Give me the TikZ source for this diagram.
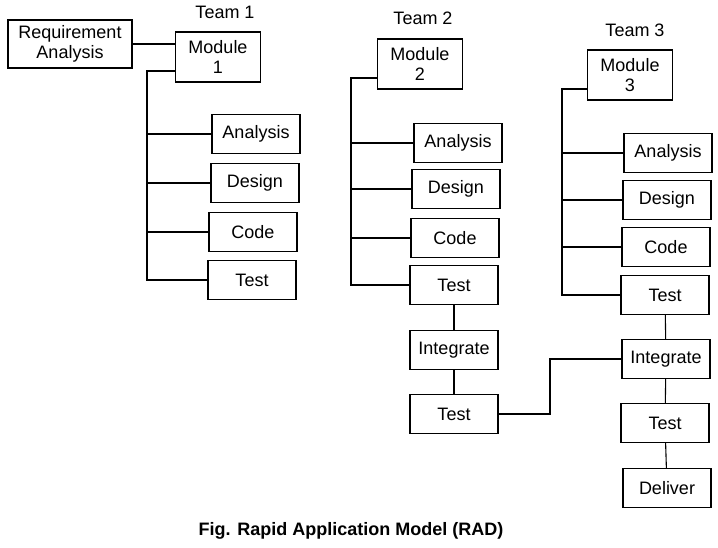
\documentclass[tikz,border=0pt]{standalone}
\usepackage{fontspec}
\setmainfont{Liberation Sans}
\begin{document}
\begin{tikzpicture}[x=1pt,y=-1pt,
  box/.style={draw, line width=1.1pt, minimum width=88pt, minimum height=39pt, inner sep=2pt, align=center, font=\fontsize{18}{20}\selectfont},
  modbox/.style={box, minimum width=85pt, minimum height=50pt},
  lbl/.style={font=\fontsize{18}{20}\selectfont},
  link/.style={line width=1.1pt}]
\useasboundingbox (0,0) rectangle (718,547);
% Team 1
\node[box, minimum width=124pt, minimum height=48pt] (ra) at (70,44) {Requirement\\Analysis};
\node[lbl] (team1) at (225,12) {Team 1};
\node[modbox] (m1) at (218,57) {Module\\1};
\node[box] (a1) at (256,134) {Analysis};
\node[box] (d1) at (255,183) {Design};
\node[box] (c1) at (253,232) {Code};
\node[box] (t1) at (252,280) {Test};
% Team 2
\node[lbl] (team2) at (423,18) {Team 2};
\node[modbox] (m2) at (420,64) {Module\\2};
\node[box] (a2) at (458,143) {Analysis};
\node[box] (d2) at (456,189) {Design};
\node[box] (c2) at (455,238) {Code};
\node[box] (t2) at (454,285) {Test};
\node[box] (i2) at (454,350) {Integrate};
\node[box] (tb2) at (454,414) {Test};
% Team 3
\node[lbl] (team3) at (635,30) {Team 3};
\node[modbox] (m3) at (630,75) {Module\\3};
\node[box] (a3) at (668,153) {Analysis};
\node[box] (d3) at (667,200) {Design};
\node[box] (c3) at (666,247) {Code};
\node[box] (t3) at (665,295) {Test};
\node[box] (i3) at (666,359) {Integrate};
\node[box] (tb3) at (665,423) {Test};
\node[box] (dl3) at (667,488) {Deliver};
% caption
\node[font=\bfseries\fontsize{18}{20}\selectfont] (cap) at (351,531) {Fig. Rapid Application Model (RAD)};
% spines
\coordinate (s1) at (147,71);
\coordinate (s2) at (351,78);
\coordinate (s3) at (562,89);
\coordinate (j) at (550,390);
\draw[link] (ra.east) -- (m1.west|-ra.east);
\draw[link] (m1.west|-s1) -- (s1) |- (t1.west);
\draw[link] (s1|-a1.west) -- (a1.west);
\draw[link] (s1|-d1.west) -- (d1.west);
\draw[link] (s1|-c1.west) -- (c1.west);
\draw[link] (m2.west|-s2) -- (s2) |- (t2.west);
\draw[link] (s2|-a2.west) -- (a2.west);
\draw[link] (s2|-d2.west) -- (d2.west);
\draw[link] (s2|-c2.west) -- (c2.west);
\draw[link] (m3.west|-s3) -- (s3) |- (t3.west);
\draw[link] (s3|-a3.west) -- (a3.west);
\draw[link] (s3|-d3.west) -- (d3.west);
\draw[link] (s3|-c3.west) -- (c3.west);
\draw[link] (t2) -- (i2);
\draw[link] (i2) -- (tb2);
\draw[link] (t3) -- (i3);
\draw[link] (i3) -- (tb3);
\draw[link] (tb3) -- (dl3);
\draw[link] (tb2.east) -| (j) |- (i3.west);
\end{tikzpicture}
\end{document}
